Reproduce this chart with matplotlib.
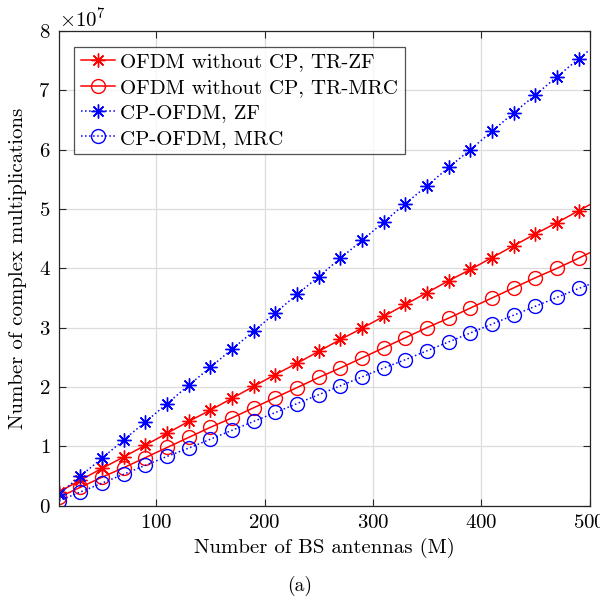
import numpy as np
import matplotlib
matplotlib.use("Agg")
import matplotlib.pyplot as plt

plt.rcParams['font.family'] = 'serif'
plt.rcParams['font.serif'] = ['cmr10', 'DejaVu Serif']
plt.rcParams['mathtext.fontset'] = 'cm'
plt.rcParams['axes.formatter.use_mathtext'] = True
plt.rcParams['axes.unicode_minus'] = False

# Number of BS antennas (last point only extends the line to the edge)
M = [10, 30, 50, 70, 90, 110, 130, 150, 170, 190, 210, 230, 250,
     270, 290, 310, 330, 350, 370, 390, 410, 430, 450, 470, 490, 500]

# complex multiplications, in units of 1e7
tr_zf = [0.23, 0.43, 0.63, 0.82, 1.02, 1.22, 1.42, 1.61, 1.81, 2.01, 2.21, 2.40, 2.60,
         2.80, 2.99, 3.19, 3.39, 3.59, 3.79, 3.98, 4.18, 4.38, 4.58, 4.77, 4.97, 5.07]
tr_mrc = [0.14, 0.31, 0.48, 0.64, 0.81, 0.98, 1.15, 1.32, 1.48, 1.65, 1.82, 1.99, 2.16,
          2.32, 2.49, 2.66, 2.83, 3.00, 3.16, 3.33, 3.50, 3.67, 3.84, 4.00, 4.17, 4.26]
cp_zf = [0.19, 0.50, 0.80, 1.11, 1.41, 1.72, 2.03, 2.33, 2.64, 2.94, 3.25, 3.56, 3.86,
         4.17, 4.47, 4.78, 5.09, 5.39, 5.70, 6.00, 6.31, 6.62, 6.92, 7.23, 7.53, 7.68]
cp_mrc = [0.08, 0.23, 0.38, 0.53, 0.68, 0.83, 0.97, 1.12, 1.27, 1.42, 1.57, 1.72, 1.87,
          2.02, 2.17, 2.32, 2.46, 2.61, 2.76, 2.91, 3.06, 3.21, 3.36, 3.51, 3.66, 3.73]

labels = ['OFDM without CP, TR-ZF', 'OFDM without CP, TR-MRC',
          'CP-OFDM, ZF', 'CP-OFDM, MRC']

M = np.array(M)
scale = 1e7
mk = list(range(len(M) - 1))
star = (8, 2, 0)
fs = 15

fig = plt.figure(figsize=(6.0, 6.07), dpi=100)
ax = fig.add_axes([0.098, 0.167, 0.8845, 0.782])

ax.plot(M, np.array(tr_zf) * scale, '-', color='r', marker=star, ms=10, mew=1.0,
        lw=1.1, markevery=mk, label=labels[0])
ax.plot(M, np.array(tr_mrc) * scale, '-', color='r', marker='o', ms=10, mfc='none',
        mew=1.0, lw=1.1, markevery=mk, label=labels[1])
ax.plot(M, np.array(cp_zf) * scale, ':', color='b', marker=star, ms=10, mew=1.0,
        lw=1.1, markevery=mk, label=labels[2])
ax.plot(M, np.array(cp_mrc) * scale, ':', color='b', marker='o', ms=10, mfc='none',
        mew=1.0, lw=1.1, markevery=mk, label=labels[3])

ax.set_xlim(10, 500)
ax.set_ylim(0, 8e7)
ax.set_xticks([100, 200, 300, 400, 500])
ax.set_yticks(np.arange(0, 9) * 1e7)
ax.ticklabel_format(axis='y', style='sci', scilimits=(7, 7), useMathText=True)
ax.yaxis.get_offset_text().set_fontsize(fs)

ax.grid(True, color='#dcdcdc', lw=0.9)
ax.set_axisbelow(True)
ax.tick_params(direction='in', top=True, right=True, labelsize=fs, length=5,
               color='#262626', pad=6)
for s in ax.spines.values():
    s.set_color('#262626')
    s.set_linewidth(0.9)

ax.set_xlabel('Number of BS antennas (M)', fontsize=fs, labelpad=4)
ax.set_ylabel('Number of complex multiplications', fontsize=fs, labelpad=8)

leg = ax.legend(loc='upper left', fontsize=fs, frameon=True, fancybox=False,
                edgecolor='#262626', borderpad=0.3, labelspacing=0.33,
                handlelength=1.65, handletextpad=0.25, borderaxespad=0.75)
leg.get_frame().set_linewidth(0.9)

fig.text(0.5, 0.027, '(a)', ha='center', fontsize=fs - 1)

fig.savefig('out.png', dpi=100)
